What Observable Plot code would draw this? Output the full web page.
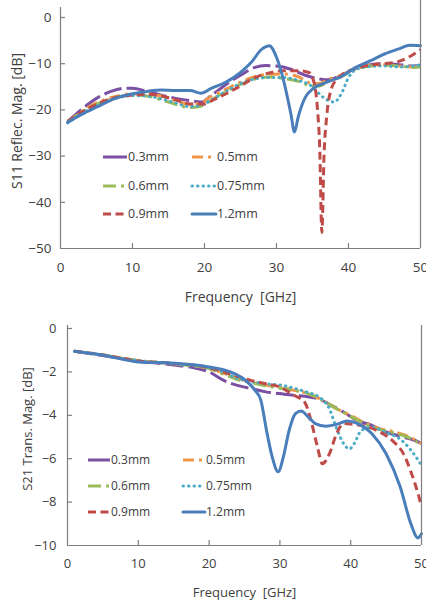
<!DOCTYPE html>
<html><head><meta charset="utf-8">
<script src="https://cdn.jsdelivr.net/npm/d3@7"></script>
<script src="https://cdn.jsdelivr.net/npm/@observablehq/plot@0.6"></script>
<style>
body{margin:0;background:#fff;width:426px;height:602px;position:relative;overflow:hidden;font-family:"Open Sans",sans-serif}
.chart{position:absolute;left:0}
.legend{position:absolute;left:0;top:0}
</style></head><body>
<div id="top" class="chart" style="top:0"></div>
<div id="bot" class="chart" style="top:300px"></div>
<script>
// ---- series ----
const series = ["0.3mm","0.5mm","0.6mm","0.75mm","0.9mm","1.2mm"];
const colors = ["#7B4FA3","#F39549","#9BBB59","#4BACC6","#BE4B48","#4A7EBB"];
const dashes = ["18,5","11,5,3,5","13,5,3,5","0.5,5","8,4.5","none"];
const caps   = ["butt","butt","butt","round","butt","round"];

// ---- S11 (reflection) ----
const s11_f_03 = [1,3,5,7,9,10,12,14,16,18,19.5,21,23,25,27,28.5,30,32,34,36,37,39,41,43,45,47,49,50];
const s11_v_03 = [-22.5,-19.8,-17.5,-16.0,-15.3,-15.3,-16.0,-16.8,-17.5,-18.0,-18.3,-16.8,-14.5,-12.5,-10.8,-10.4,-10.5,-11.2,-12.5,-13.3,-13.5,-12.5,-11.0,-10.2,-10.0,-10.2,-10.5,-10.4];
const s11_f_05 = [1,5,8,10,12,14,16,18,19.5,21,23,25,27,29,31,33,35,36,37,39,41,43,45,47,49,50];
const s11_v_05 = [-22.5,-18.5,-17.0,-16.5,-16.5,-17.0,-18.0,-18.8,-18.5,-17.0,-15.5,-14.0,-12.8,-12.3,-12.2,-12.8,-14.3,-14.3,-13.5,-12.5,-11.0,-10.3,-10.2,-10.5,-10.7,-10.6];
const s11_f_06 = [1,5,8,10,12,14,16,18,19.5,21,23,25,27,29,31,33,35,36,37,39,41,43,45,47,49,50];
const s11_v_06 = [-22.5,-18.8,-17.2,-16.8,-17.0,-17.8,-18.8,-19.5,-19.2,-17.8,-16.0,-14.5,-13.3,-12.9,-13.2,-13.8,-14.8,-14.8,-14.0,-12.8,-11.2,-10.5,-10.3,-10.5,-10.8,-10.7];
const s11_f_075 = [1,5,8,10,12,14,16,18,19.5,21,23,25,27,29,31,33,35,36.5,38,39,40,41,43,45,47,49,50];
const s11_v_075 = [-22.8,-19.0,-17.4,-16.9,-17.0,-17.6,-18.5,-19.3,-19.0,-17.8,-16.0,-14.3,-13.3,-13.0,-13.0,-13.6,-15.0,-17.3,-18.3,-16.5,-13.0,-11.3,-10.6,-10.5,-10.7,-10.5,-10.2];
const s11_f_09 = [1,5,8,10,12,14,16,18,20,21,23,25,27,29,31,33,34.5,35.2,35.7,36.0,36.3,36.6,37.0,37.6,38.3,39,41,43,45,47,49,50];
const s11_v_09 = [-22.5,-18.8,-17.2,-16.8,-16.6,-17.0,-17.8,-18.7,-18.7,-18.0,-16.5,-14.8,-13.0,-12.0,-11.5,-11.5,-11.9,-14.0,-20.0,-28.0,-46.5,-30.0,-21.0,-15.5,-13.5,-12.5,-11.0,-10.3,-10.0,-9.5,-8.0,-7.0];
const s11_f_12 = [1,3,5,8,10,12,14,16,18,19.5,21,23,25,26.5,28,29,30,31,32,32.5,33,34,35,37,39,41,43,45,47,48.5,50];
const s11_v_12 = [-22.7,-20.9,-19.4,-17.3,-16.5,-16.0,-15.7,-15.8,-15.8,-16.4,-15.3,-14.0,-11.9,-9.7,-6.8,-6.1,-8.6,-13.7,-20.9,-24.8,-21.6,-17.3,-15.5,-14.0,-12.8,-10.8,-9.4,-7.9,-6.8,-6.0,-6.1];

// ---- S21 (transmission) ----
const s21_f_03 = [1,5,10,15,18,20,22,24,26,28,30,32,34,35.5,37,39,41,43,45,47,49,50];
const s21_v_03 = [-1.05,-1.25,-1.5,-1.68,-1.82,-2.0,-2.38,-2.62,-2.77,-2.92,-3.0,-3.08,-3.15,-3.25,-3.5,-3.85,-4.25,-4.46,-4.77,-4.97,-5.15,-5.3];
const s21_f_05 = [1,5,10,15,20,22,24,26,28,30,32,34,36,38,40,42,44,46,48,50];
const s21_v_05 = [-1.05,-1.22,-1.48,-1.62,-1.85,-2.05,-2.3,-2.45,-2.6,-2.7,-2.85,-3.0,-3.3,-3.7,-4.0,-4.35,-4.6,-4.75,-4.95,-5.3];
const s21_f_06 = [1,5,10,15,20,22,24,26,28,30,32,34,36,38,40,42,44,46,48,50];
const s21_v_06 = [-1.05,-1.22,-1.48,-1.63,-1.85,-2.1,-2.35,-2.5,-2.65,-2.75,-2.85,-3.0,-3.3,-3.7,-4.05,-4.4,-4.65,-4.8,-5.0,-5.35];
const s21_f_075 = [1,5,10,15,20,22,24,26,28,30,32,34,35.5,37,38,39,39.8,40.5,41.5,43,45,47,48.5,50];
const s21_v_075 = [-1.05,-1.22,-1.48,-1.62,-1.82,-2.0,-2.3,-2.45,-2.55,-2.6,-2.75,-2.95,-3.15,-3.7,-4.6,-5.3,-5.55,-5.3,-4.7,-4.55,-4.8,-5.1,-5.6,-6.3];
const s21_f_09 = [1,5,10,15,20,22,24,26,28,30,32,33.5,34.5,35.3,36,37,38,39,40,42,44,46,47.5,48.5,49.5,50];
const s21_v_09 = [-1.05,-1.22,-1.5,-1.6,-1.8,-2.0,-2.2,-2.4,-2.55,-2.7,-3.08,-3.4,-4.38,-5.46,-6.23,-5.77,-4.85,-4.38,-4.4,-4.5,-4.75,-5.2,-5.8,-6.6,-7.6,-8.2];
const s21_f_12 = [1,5,10,15,20,23,25,26.5,27.3,28.2,28.9,29.75,30.5,31.3,32.2,33,34,35,36.5,38,39.5,41,43,45,47,48.5,49.5,50];
const s21_v_12 = [-1.05,-1.23,-1.54,-1.6,-1.77,-2.0,-2.35,-2.85,-3.3,-4.85,-5.9,-6.6,-5.9,-4.7,-3.92,-3.8,-4.08,-4.38,-4.5,-4.42,-4.26,-4.38,-4.85,-5.77,-7.3,-9.0,-9.65,-9.46];

// ---- ticks ----
const xTicks = [0,10,20,30,40,50];
const s11Ticks = [0,-10,-20,-30,-40,-50];
const s21Ticks = [0,-2,-4,-6,-8,-10];

const s11F = [s11_f_03,s11_f_05,s11_f_06,s11_f_075,s11_f_09,s11_f_12];
const s11V = [s11_v_03,s11_v_05,s11_v_06,s11_v_075,s11_v_09,s11_v_12];
const s21F = [s21_f_03,s21_f_05,s21_f_06,s21_f_075,s21_f_09,s21_f_12];
const s21V = [s21_v_03,s21_v_05,s21_v_06,s21_v_075,s21_v_09,s21_v_12];

function rows(F, V, i){ return F[i].map((f,j)=>({f, v: V[i][j]})); }

const axisColor = "#7f7f7f";
const textColor = "#404040";
const W = 426;

function makeChart(o){
  const pw = W - o.ml - o.mr, ph = o.height - o.mt - o.mb;
  const marks = [];
  series.forEach((s,i)=>{
    marks.push(Plot.line(rows(o.F,o.V,i), {x:"f", y:"v", stroke: colors[i], strokeWidth: 3,
      strokeDasharray: dashes[i], strokeLinecap: caps[i], curve: "monotone-x"}));
  });
  const yMin = o.yDomain[0];
  marks.push(
    Plot.ruleX([0], {stroke: axisColor, strokeWidth: 1.2, insetTop: -o.extL}),
    Plot.ruleX([50], {stroke: axisColor, strokeWidth: 1.2, insetTop: -o.extR}),
    Plot.ruleY([yMin], {stroke: axisColor, strokeWidth: 1.2}),
    Plot.tickX(xTicks.slice(1,-1), {x: d=>d, insetTop: ph - 5, stroke: axisColor, strokeWidth: 1.2}),
    Plot.tickY(o.yTicks.slice(0,-1), {y: d=>d, insetRight: pw - 5, stroke: axisColor, strokeWidth: 1.2}),
    Plot.axisY(o.yTicks, {anchor:"left", tickSize: 0, tickPadding: o.yPad, label: null, fontSize: o.fs, fill: textColor}),
    Plot.axisX(xTicks, {anchor:"bottom", tickSize: 0, tickPadding: o.xPad, label: null, fontSize: o.fs, fill: textColor}),
    Plot.text([o.yLabel], {frameAnchor:"left", rotate:-90, dx: -o.yLabDx, dy: o.yLabDy, fontSize: o.lfs, fill: textColor, textAnchor:"middle", lineAnchor:"middle"}),
    Plot.text([o.xLabel], {frameAnchor:"bottom", dy: o.xLabDy, fontSize: o.lfs, fill: textColor, textAnchor:"middle", lineAnchor:"middle"})
  );
  return Plot.plot({
    width: W, height: o.height,
    marginLeft: o.ml, marginRight: o.mr, marginTop: o.mt, marginBottom: o.mb,
    x: {domain:[0,50]}, y: {domain: o.yDomain},
    style: {fontFamily: "'Open Sans', sans-serif", background: "transparent", overflow: "visible"},
    marks
  });
}

function addLegend(el, L){
  const svg = d3.select(el).append("svg").attr("class","legend").attr("width",W).attr("height",L.h);
  series.forEach((s,i)=>{
    const col = i % 2, row = Math.floor(i/2);
    const x0 = L.cols[col], y = L.rows[row];
    svg.append("line").attr("x1", x0).attr("x2", x0 + L.len).attr("y1", y).attr("y2", y)
      .attr("stroke", colors[i]).attr("stroke-width", 3)
      .attr("stroke-dasharray", i === 0 ? "none" : dashes[i]).attr("stroke-linecap", caps[i]);
    svg.append("text").attr("x", x0 + L.len + 1).attr("y", y).attr("dy","0.35em")
      .attr("font-size", L.fs).attr("fill", textColor)
      .attr("font-family","'Open Sans', sans-serif").text(s);
  });
}

const topEl = document.getElementById("top");
topEl.append(makeChart({F:s11F, V:s11V, height:300, ml:60, mr:6, mt:17, mb:52, extL:10, extR:17,
  yDomain:[-50,0], yTicks:s11Ticks, yPad:9, xPad:14, fs:13.5, lfs:14,
  yLabel:"S11 Reflec. Mag. [dB]", yLabDx:43, yLabDy:-12,
  xLabel:"Frequency  [GHz]", xLabDy:49}));
addLegend(topEl, {h:300, cols:[103,192], rows:[157,186,214], len:24, fs:12.5});

const botEl = document.getElementById("bot");
botEl.append(makeChart({F:s21F, V:s21V, height:302, ml:67, mr:5, mt:28, mb:57, extL:3, extR:3,
  yDomain:[-10,0], yTicks:s21Ticks, yPad:11, xPad:13, fs:13, lfs:13,
  yLabel:"S21 Trans. Mag. [dB]", yLabDx:40, yLabDy:-8,
  xLabel:"Frequency  [GHz]", xLabDy:47}));
addLegend(botEl, {h:302, cols:[88,183], rows:[160,186,212], len:22, fs:12});
</script>
</body></html>
